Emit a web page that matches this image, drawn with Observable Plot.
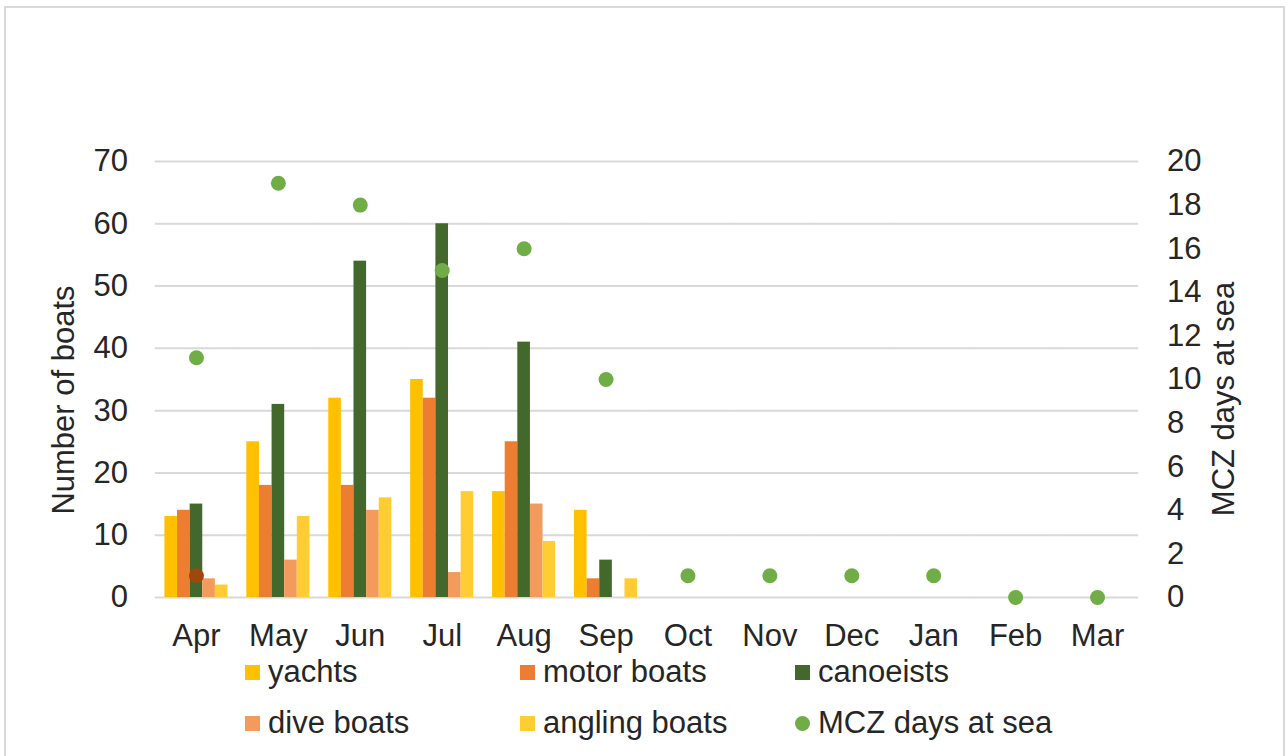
<!DOCTYPE html>
<html>
<head>
<meta charset="utf-8">
<script src="https://cdn.jsdelivr.net/npm/d3@7"></script>
<script src="https://cdn.jsdelivr.net/npm/@observablehq/plot@0.6"></script>
<style>
  html, body { margin: 0; padding: 0; background: #fff; overflow: hidden; }
  #wrap { position: relative; width: 1287px; height: 756px; font-family: 'Liberation Sans', Arial, sans-serif; color: #262626; }
  #frame { position: absolute; left: 4px; top: 6px; width: 1281px; height: 800px; border: 2px solid #d9d9d9; box-sizing: border-box; }
  #chart { position: absolute; left: 0; top: 0; }
  .ytitle { position: absolute; font-size: 31px; white-space: nowrap; transform: translate(-50%, -50%) rotate(-90deg); }
  .leg { position: absolute; font-size: 31px; white-space: nowrap; line-height: 1; }
  .sw { position: absolute; width: 15px; height: 15px; }
</style>
</head>
<body>
<div id="wrap">
  <div id="frame"></div>
  <div id="chart"></div>
  <div class="ytitle" style="left:64px; top:400px;">Number of boats</div>
  <div class="ytitle" style="left:1224px; top:399px;">MCZ days at sea</div>
  <div id="legend"></div>
</div>
<script>
const months = ["Apr","May","Jun","Jul","Aug","Sep","Oct","Nov","Dec","Jan","Feb","Mar"];
const seriesNames = ["yachts","motor boats","canoeists","dive boats","angling boats"];
const seriesColors = ["#FFC000","#ED7D31","#43682B","#F29B5C","#FFCD33"];
const yachts       = [13, 25, 32, 35, 17, 14, 0, 0, 0, 0, 0, 0];
const motorBoats   = [14, 18, 18, 32, 25,  3, 0, 0, 0, 0, 0, 0];
const canoeists    = [15, 31, 54, 60, 41,  6, 0, 0, 0, 0, 0, 0];
const diveBoats    = [ 3,  6, 14,  4, 15,  0, 0, 0, 0, 0, 0, 0];
const anglingBoats = [ 2, 13, 16, 17,  9,  3, 0, 0, 0, 0, 0, 0];
const mczDays      = [11, 19, 18, 15, 16, 10, 1, 1, 1, 1, 0, 0];
const mczMarker    = [{month: "Apr", days: 1}];
const leftTicks  = [0, 10, 20, 30, 40, 50, 60, 70];
const rightTicks = [0, 2, 4, 6, 8, 10, 12, 14, 16, 18, 20];
const mczColor = "#70AD47";
const markerColor = "#9E480E";

const ratio = 70 / 20;
const seriesValues = [yachts, motorBoats, canoeists, diveBoats, anglingBoats];
const bars = [];
months.forEach((m, i) => seriesNames.forEach((s, j) => {
  bars.push({month: m, series: s, value: seriesValues[j][i]});
}));
const mcz = months.map((m, i) => ({month: m, days: mczDays[i]}));

const chart = Plot.plot({
  width: 1287,
  height: 680,
  marginTop: 161,
  marginBottom: 83,
  marginLeft: 155,
  marginRight: 149,
  style: {fontFamily: "'Liberation Sans', Arial, sans-serif", fontSize: "31px", color: "#262626", background: "transparent", overflow: "visible"},
  fx: {domain: months, paddingInner: 0.23, paddingOuter: 0.115, round: false, label: null},
  x: {domain: seriesNames, paddingInner: 0, paddingOuter: 0, round: false, axis: null},
  y: {domain: [0, 70], label: null},
  color: {domain: seriesNames, range: seriesColors},
  marks: [
    Plot.ruleY(leftTicks, {stroke: "#d9d9d9", strokeWidth: 2, insetLeft: -9.6, insetRight: -9.6}),
    Plot.barY(bars, {fx: "month", x: "series", y: "value", fill: "series"}),
    Plot.dot(mcz, {fx: "month", y: d => d.days * ratio, r: 7.5, fill: mczColor}),
    Plot.dot(mczMarker, {fx: "month", y: d => d.days * ratio, r: 7.5, fill: markerColor}),
    Plot.axisY(leftTicks, {anchor: "left", tickSize: 0, tickPadding: 37, label: null}),
    Plot.axisY(rightTicks.map(d => d * ratio), {anchor: "right", tickSize: 0, tickPadding: 38, label: null, tickFormat: d => String(Math.round(d / ratio))}),
    Plot.axisFx({anchor: "bottom", tickSize: 0, tickPadding: 26, label: null})
  ]
});
document.getElementById("chart").appendChild(chart);

// legend
const legendItems = [
  {name: "yachts", color: seriesColors[0], kind: "rect", col: 0, row: 0},
  {name: "motor boats", color: seriesColors[1], kind: "rect", col: 1, row: 0},
  {name: "canoeists", color: seriesColors[2], kind: "rect", col: 2, row: 0},
  {name: "dive boats", color: seriesColors[3], kind: "rect", col: 0, row: 1},
  {name: "angling boats", color: seriesColors[4], kind: "rect", col: 1, row: 1},
  {name: "MCZ days at sea", color: mczColor, kind: "dot", col: 2, row: 1}
];
const colX = [245, 520, 795];
const rowY = [672, 723];
const legend = document.getElementById("legend");
legendItems.forEach(it => {
  const sw = document.createElement("div");
  sw.className = "sw";
  sw.style.left = colX[it.col] + "px";
  sw.style.top = (rowY[it.row] - 7.5) + "px";
  sw.style.background = it.color;
  if (it.kind === "dot") sw.style.borderRadius = "50%";
  legend.appendChild(sw);
  const t = document.createElement("div");
  t.className = "leg";
  t.textContent = it.name;
  t.style.left = (colX[it.col] + 23) + "px";
  t.style.top = (rowY[it.row] - 16) + "px";
  legend.appendChild(t);
});
</script>
</body>
</html>
